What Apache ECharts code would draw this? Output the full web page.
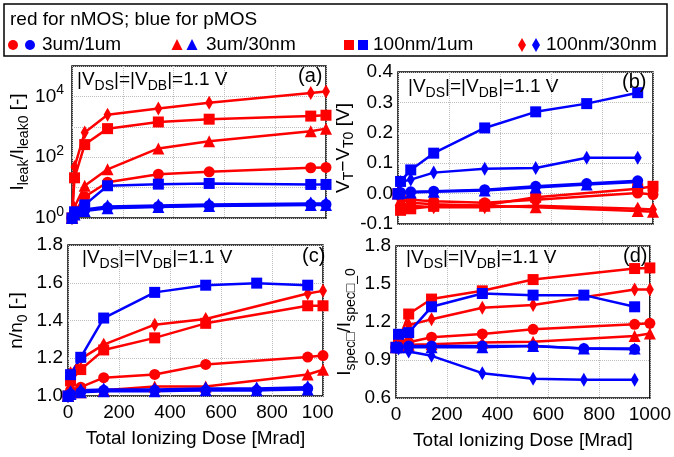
<!DOCTYPE html>
<html>
<head>
<meta charset="utf-8">
<script src="https://cdn.jsdelivr.net/npm/echarts@6.0.0/dist/echarts.min.js"></script>
<style>
html, body { margin: 0; padding: 0; background: #fff; }
#main { width: 674px; height: 457px; }
</style>
</head>
<body>
<div id="main"></div>
<script>
// doses [Mrad]
var doseN = [0, 10, 50, 140, 340, 540, 940, 1000];
var doseP = [0, 10, 50, 140, 340, 540, 740, 940];
var doseA = [0, 10, 50, 140, 340, 540, 940, 1000];
var xTicks = [0, 200, 400, 600, 800, 1000];

// (a) Ileak/Ileak0
var aRedCirc = [1, 1.5, 5, 15, 27.5, 33, 45, 46];
var aRedTri = [1, 2.3, 11.5, 40, 194, 335, 710, 870];
var aRedSq = [1, 21, 260, 870, 1440, 1780, 2250, 2400];
var aRedDia = [1, 48, 650, 2500, 4000, 6200, 13000, 14500];
var aBlueCirc = [1, 1.5, 1.8, 2.2, 2.4, 2.6, 2.8, 2.8];
var aBlueTri = [1, 1.3, 1.7, 2.1, 2.3, 2.5, 2.7, 2.7];
var aBlueSq = [1, 1.6, 2.7, 11.5, 13, 13.7, 12.7, 12.7];
var aBlueDia = [1, 1.4, 1.9, 2.4, 2.6, 2.8, 3.0, 3.0];

// (b) VT - VT0
var bRedCirc = [0, -0.01, -0.02, -0.025, -0.03, -0.02, 0.002, -0.003];
var bRedTri = [0, -0.02, -0.03, -0.035, -0.04, -0.045, -0.057, -0.06];
var bRedSq = [0, -0.055, -0.05, -0.042, -0.038, -0.012, 0.016, 0.024];
var bRedDia = [0, -0.03, -0.04, -0.045, -0.045, -0.04, -0.05, -0.052];
var bBlueCirc = [0, 0.004, 0.006, 0.008, 0.013, 0.024, 0.033, 0.042];
var bBlueTri = [0, 0.002, 0.004, 0.006, 0.01, 0.02, 0.03, 0.038];
var bBlueSq = [0, 0.04, 0.078, 0.133, 0.216, 0.269, 0.296, 0.332];
var bBlueDia = [0, 0.038, 0.046, 0.069, 0.082, 0.084, 0.118, 0.118];

// (c) n/n0
var cRedCirc = [1, 1.03, 1.047, 1.097, 1.114, 1.167, 1.206, 1.214];
var cRedTri = [1, 1.02, 1.02, 1.03, 1.05, 1.05, 1.114, 1.139];
var cRedSq = [1, 1.08, 1.14, 1.244, 1.308, 1.385, 1.478, 1.478];
var cRedDia = [1, 1.12, 1.197, 1.272, 1.378, 1.408, 1.543, 1.557];
var cBlueCirc = [1, 1.01, 1.02, 1.03, 1.03, 1.03, 1.03, 1.04];
var cBlueTri = [1, 1.01, 1.02, 1.025, 1.025, 1.03, 1.03, 1.035];
var cBlueSq = [1, 1.113, 1.205, 1.413, 1.549, 1.587, 1.598, 1.587];
var cBlueDia = [1, 1.02, 1.03, 1.035, 1.035, 1.04, 1.04, 1.047];

// (d) Ispec/Ispec_0
var dRedCirc = [1, 1.03, 1.04, 1.08, 1.106, 1.142, 1.182, 1.19];
var dRedTri = [1, 1.01, 1.02, 1.025, 1.038, 1.045, 1.09, 1.11];
var dRedSq = [1, 1.05, 1.263, 1.381, 1.446, 1.535, 1.622, 1.627];
var dRedDia = [1, 1.04, 1.176, 1.221, 1.313, 1.334, 1.457, 1.457];
var dBlueCirc = [1, 1.0, 1.01, 1.01, 1.01, 1.01, 0.99, 0.985];
var dBlueTri = [1, 1.0, 1.0, 1.0, 1.0, 1.01, 0.99, 0.99];
var dBlueSq = [1, 1.103, 1.116, 1.32, 1.425, 1.412, 1.412, 1.32];
var dBlueDia = [1, 0.99, 0.967, 0.933, 0.796, 0.752, 0.744, 0.744];

var legendNames = ['3um/1um', '3um/30nm', '100nm/1um', '100nm/30nm'];
var panelLetters = ['(a)', '(b)', '(c)', '(d)'];

var FONT = 'Liberation Sans, Arial, sans-serif';
var RED = '#ff0000', BLUE = '#0000ff';
var symbols = ['circle', 'triangle', 'rect', 'diamond'];
var symbolSizes = [11, 12, 11, [8, 14]];

var panels = [
	{ red: [aRedCirc, aRedTri, aRedSq, aRedDia], blue: [aBlueCirc, aBlueTri, aBlueSq, aBlueDia], doseRed: doseN, doseBlue: doseA },
	{ red: [bRedCirc, bRedTri, bRedSq, bRedDia], blue: [bBlueCirc, bBlueTri, bBlueSq, bBlueDia], doseRed: doseN, doseBlue: doseP },
	{ red: [cRedCirc, cRedTri, cRedSq, cRedDia], blue: [cBlueCirc, cBlueTri, cBlueSq, cBlueDia], doseRed: doseN, doseBlue: doseP },
	{ red: [dRedCirc, dRedTri, dRedSq, dRedDia], blue: [dBlueCirc, dBlueTri, dBlueSq, dBlueDia], doseRed: doseN, doseBlue: doseP }
];

var grids = [
	{ left: 72, top: 66, width: 254, height: 152 },
	{ left: 398, top: 72, width: 255, height: 152 },
	{ left: 68, top: 245, width: 255, height: 151 },
	{ left: 396, top: 246, width: 255, height: 152 }
];

var richBase = {
	n: { fontSize: 19, fontFamily: FONT, fontWeight: 'normal', color: '#000', lineHeight: 26 },
	s: { fontSize: 14, fontFamily: FONT, fontWeight: 'normal', color: '#000', lineHeight: 14, verticalAlign: 'bottom' },
	b: { fontSize: 19, fontFamily: FONT, fontWeight: 'normal', color: '#000', lineHeight: 26 },
	p: { fontSize: 14, fontFamily: FONT, fontWeight: 'normal', color: '#000', lineHeight: 14, verticalAlign: 'top' }
};

var splitStyle = { show: true, lineStyle: { color: '#bdbdbd', type: 'dotted', width: 1 } };

var xAxes = [], yAxes = [], series = [], titles = [];
for (var i = 0; i < 4; i++) {
	var g = grids[i];
	g.show = true;
	g.borderColor = '#000';
	g.borderWidth = 1.5;
	g.backgroundColor = 'transparent';
	xAxes.push({
		type: 'value', gridIndex: i, min: xTicks[0], max: xTicks[xTicks.length - 1], interval: 200,
		axisLine: { show: false }, axisTick: { show: false },
		axisLabel: {
			show: i >= 2, color: '#000', fontSize: 19, fontFamily: FONT, margin: 7,
			formatter: function (v) { return String(v); }
		},
		splitLine: splitStyle,
		name: i >= 2 ? 'Total Ionizing Dose [Mrad]' : '',
		nameLocation: 'middle', nameGap: 33,
		nameTextStyle: { color: '#000', fontSize: 19, fontFamily: FONT }
	});
}

yAxes.push({
	type: 'log', logBase: 10, gridIndex: 0, min: 1, max: 100000,
	axisLine: { show: false }, axisTick: { show: false },
	axisLabel: {
		margin: 8,
		formatter: function (v) {
			var e = Math.round(Math.log10(v));
			return (e % 2 === 0 && e < 5) ? '{b|10}{p|' + e + '}' : '';
		},
		rich: richBase
	},
	splitLine: splitStyle,
	name: '{n|I}{s|leak}{n|/I}{s|leak0}{n| [-]}',
	nameLocation: 'middle', nameGap: 38, nameRotate: 90,
	nameTextStyle: { rich: richBase }
});
var linAxes = [
	{ min: -0.1, max: 0.4, interval: 0.1, name: '{n|V}{s|T}{n|\u2212V}{s|T0}{n| [V]}', gap: 36 },
	{ min: 1.0, max: 1.8, interval: 0.2, name: '{n|n/n}{s|0}{n| [-]}', gap: 38 },
	{ min: 0.6, max: 1.8, interval: 0.3, name: '{n|I}{s|spec\u25A1}{n|/I}{s|spec\u25A1_0}', gap: 38 }
];
for (var k = 0; k < linAxes.length; k++) {
	var la = linAxes[k];
	yAxes.push({
		type: 'value', gridIndex: k + 1, min: la.min, max: la.max, interval: la.interval,
		axisLine: { show: false, onZero: false }, axisTick: { show: false },
		axisLabel: {
			color: '#000', fontSize: 19, fontFamily: FONT, margin: 5,
			formatter: function (v) { return v.toFixed(1); }
		},
		splitLine: splitStyle,
		name: la.name,
		nameLocation: 'middle', nameGap: la.gap, nameRotate: 90,
		nameTextStyle: { rich: richBase }
	});
}

function pairs(xs, ys) {
	var out = [];
	for (var j = 0; j < ys.length; j++) out.push([xs[j], ys[j]]);
	return out;
}

for (var p = 0; p < panels.length; p++) {
	var pan = panels[p];
	// red first, blue drawn on top
	[['red', RED, pan.doseRed], ['blue', BLUE, pan.doseBlue]].forEach(function (c) {
		for (var m = 0; m < 4; m++) {
			series.push({
				type: 'line', name: c[0] + ' ' + legendNames[m],
				xAxisIndex: p, yAxisIndex: p,
				data: pairs(c[2], pan[c[0]][m]),
				symbol: symbols[m], symbolSize: symbolSizes[m],
				showAllSymbol: true, clip: false, animation: false,
				itemStyle: { color: c[1] },
				lineStyle: { color: c[1], width: 2.5 }
			});
		}
	});
}

var annoPos = [[77, 67], [408, 74], [82, 245], [406, 245]];
var letterPos = [[298, 66], [622, 72], [302, 246], [623, 246]];
for (var t = 0; t < 4; t++) {
	titles.push({
		text: '{n||V}{s|DS}{n||=|V}{s|DB}{n||=1.1 V}',
		left: annoPos[t][0], top: annoPos[t][1], padding: 0,
		textStyle: { fontWeight: 'normal', rich: richBase }
	});
	titles.push({
		text: panelLetters[t],
		left: letterPos[t][0], top: letterPos[t][1], padding: 0,
		textStyle: { color: '#000', fontSize: 20, fontWeight: 'normal', fontFamily: FONT }
	});
}

// legend box drawn with graphic elements
function legendSymbol(type, cx, cy, color) {
	var st = { fill: color };
	if (type === 'circle') return { type: 'circle', shape: { cx: cx, cy: cy, r: 5 }, style: st };
	if (type === 'rect') return { type: 'rect', shape: { x: cx - 5, y: cy - 5, width: 10, height: 10 }, style: st };
	if (type === 'triangle') return { type: 'polygon', shape: { points: [[cx, cy - 6], [cx + 5.5, cy + 5], [cx - 5.5, cy + 5]] }, style: st };
	return { type: 'polygon', shape: { points: [[cx, cy - 7], [cx + 4, cy], [cx, cy + 7], [cx - 4, cy]] }, style: st };
}
var legendX = [[13, 30, 42], [177, 192, 206], [349, 363, 373], [522, 536, 546]];
var legendRowY = 45;
var graphic = [
	{ type: 'rect', shape: { x: 4, y: 4, width: 663, height: 52 }, style: { fill: 'none', stroke: '#000', lineWidth: 1.5 } },
	{ type: 'text', x: 10, y: 20, style: { text: 'red for nMOS; blue for pMOS', fontSize: 19, fontFamily: FONT, fill: '#000', verticalAlign: 'middle' } }
];
for (var q = 0; q < 4; q++) {
	graphic.push(legendSymbol(symbols[q], legendX[q][0], legendRowY, RED));
	graphic.push(legendSymbol(symbols[q], legendX[q][1], legendRowY, BLUE));
	graphic.push({ type: 'text', x: legendX[q][2], y: legendRowY, style: { text: legendNames[q], fontSize: 19, fontFamily: FONT, fill: '#000', verticalAlign: 'middle' } });
}
// the right panels overlap the last digit of the (c) axis, as in the composite figure
graphic.push({ type: 'rect', z: 100, shape: { x: 333.5, y: 402, width: 12, height: 22 }, style: { fill: '#fff' } });

var chart = echarts.init(document.getElementById('main'));
chart.setOption({
	animation: false,
	title: titles,
	grid: grids,
	xAxis: xAxes,
	yAxis: yAxes,
	series: series,
	graphic: graphic
});
</script>
</body>
</html>
